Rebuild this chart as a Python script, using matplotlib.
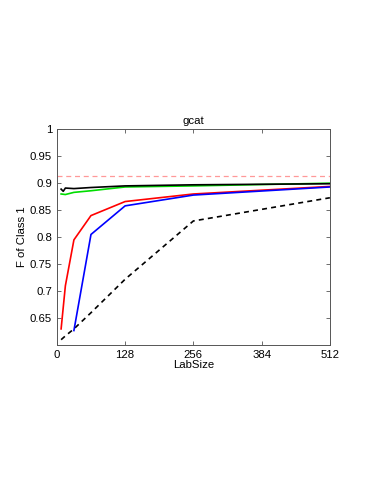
import matplotlib
matplotlib.use("Agg")
import matplotlib.pyplot as plt

plt.rcParams['font.family'] = ['Liberation Sans', 'DejaVu Sans']

# data
lab_size = [8, 16, 32, 64, 128, 256, 512]
red_f = [0.630, 0.710, 0.795, 0.840, 0.866, 0.880, 0.894]
blue_x = [32, 64, 128, 256, 512]
blue_f = [0.627, 0.805, 0.858, 0.878, 0.893]
dashed_f = [0.610, 0.617, 0.630, 0.660, 0.722, 0.830, 0.873]
black_x = [8, 12, 16, 32, 64, 128, 256, 512]
black_f = [0.889, 0.885, 0.891, 0.890, 0.892, 0.895, 0.897, 0.899]
green_f = [0.880, 0.879, 0.883, 0.886, 0.893, 0.895, 0.900]
ref_f = 0.913

xticks = [0, 128, 256, 384, 512]
yticks = [0.65, 0.7, 0.75, 0.8, 0.85, 0.9, 0.95, 1]

fig = plt.figure(figsize=(3.74, 4.84), dpi=100)
ax = fig.add_axes([0.152, 0.287, 0.73, 0.446])

ax.axhline(ref_f, color='#ff9999', linestyle='--', linewidth=0.9, dashes=(4, 3))
ax.plot(lab_size, dashed_f, color='black', linestyle='--', linewidth=1.2, dashes=(3, 2.5))
ax.plot(lab_size, red_f, color='red', linewidth=1.2)
ax.plot(blue_x, blue_f, color='blue', linewidth=1.2)
ax.plot(lab_size, green_f, color='#00dd00', linewidth=1.2)
ax.plot(black_x, black_f, color='black', linewidth=1.2)

ax.set_xlim(0, 512)
ax.set_ylim(0.6, 1)
ax.set_xticks(xticks)
ax.set_xticklabels([str(t) for t in xticks])
ax.set_yticks(yticks)
ax.set_yticklabels(['0.65', '0.7', '0.75', '0.8', '0.85', '0.9', '0.95', '1'])
ax.tick_params(direction='in', length=3, labelsize=8.2, top=True, right=True,
               width=0.6, color='#555555')
for s in ax.spines.values():
    s.set_linewidth(0.7)
    s.set_color('#555555')

ax.set_title('gcat', fontsize=8.2, pad=4)
ax.set_xlabel('LabSize', fontsize=8.2, labelpad=0)
ax.set_ylabel('F of Class 1', fontsize=8.2, labelpad=2)

fig.savefig('out.png', dpi=100)
